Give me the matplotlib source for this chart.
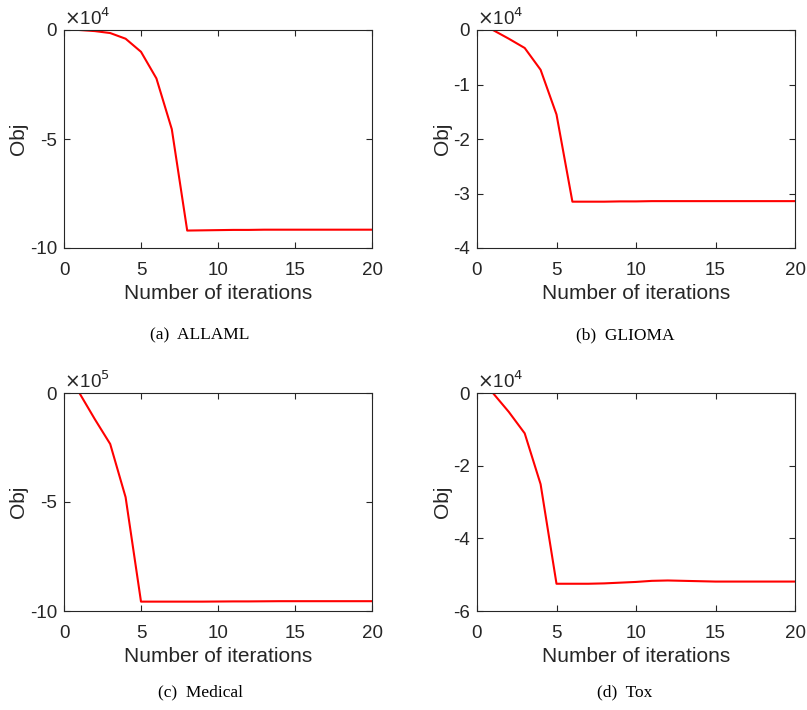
#!/usr/bin/env python3
import numpy as np
import matplotlib.pyplot as plt

plt.rcParams['font.family'] = ['Liberation Sans', 'DejaVu Sans']
plt.rcParams['axes.unicode_minus'] = False

iters = np.arange(1, 21)

# objective values, in units of 10^exp
allaml = [0, -0.05, -0.14, -0.40, -1.00, -2.22, -4.55, -9.20, -9.19, -9.18,
          -9.17, -9.17, -9.16, -9.16, -9.16, -9.16, -9.16, -9.16, -9.16, -9.16]
glioma = [0, -0.16, -0.33, -0.73, -1.55, -3.15, -3.15, -3.15, -3.145, -3.145,
          -3.14, -3.14, -3.14, -3.14, -3.14, -3.14, -3.14, -3.14, -3.14, -3.14]
medical = [0, -1.20, -2.34, -4.78, -9.57, -9.57, -9.57, -9.57, -9.57, -9.565,
           -9.56, -9.56, -9.555, -9.55, -9.55, -9.55, -9.55, -9.55, -9.55, -9.55]
tox = [0, -0.52, -1.11, -2.51, -5.25, -5.25, -5.25, -5.24, -5.22, -5.20,
       -5.17, -5.16, -5.17, -5.18, -5.19, -5.19, -5.19, -5.19, -5.19, -5.19]

series = [allaml, glioma, medical, tox]
exps = [4, 4, 5, 4]
ylims = [(-10, 0), (-4, 0), (-10, 0), (-6, 0)]
yticks = [[-10, -5, 0], [-4, -3, -2, -1, 0], [-10, -5, 0], [-6, -4, -2, 0]]
captions = ['(a)  ALLAML', '(b)  GLIOMA', '(c)  Medical', '(d)  Tox']

W, H = 807, 710
fig = plt.figure(figsize=(W / 100, H / 100), dpi=100)

# axes boxes in pixels: left, top, right, bottom
boxes = [(64, 30, 372, 248), (477, 30, 795, 248),
         (64, 393, 372, 611), (477, 393, 795, 611)]
cap_x = [200, 625]
cap_y = [335, 692]
gray = '#262626'

for i, (l, t, r, b) in enumerate(boxes):
    ax = fig.add_axes([l / W, 1 - b / H, (r - l) / W, (b - t) / H])
    ax.plot(iters, series[i], color='red', lw=1.5)
    ax.set_xlim(0, 20)
    ax.set_ylim(*ylims[i])
    ax.set_xticks([0, 5, 10, 15, 20])
    ax.set_yticks(yticks[i])
    ax.tick_params(direction='in', top=True, right=True, length=4,
                   width=0.8, colors=gray, labelsize=13.5, labelcolor=gray)
    ax.tick_params(axis='x', pad=10)
    ax.tick_params(axis='y', pad=5)
    for s in ax.spines.values():
        s.set_color(gray)
        s.set_linewidth(0.8)
    ax.set_xlabel('Number of iterations', fontsize=15, color=gray, labelpad=4)
    ax.set_ylabel('Obj', fontsize=15, color=gray, labelpad=1)
    ax.text(0.0, 1.005, r'$\times$10$^{%d}$' % exps[i], transform=ax.transAxes,
            fontsize=13.5, color=gray, ha='left', va='bottom')
    fig.text(cap_x[i % 2] / W, 1 - cap_y[i // 2] / H, captions[i],
             fontsize=12.5, family='Liberation Serif', ha='center', va='center')

plt.savefig('out.png', dpi=100)
